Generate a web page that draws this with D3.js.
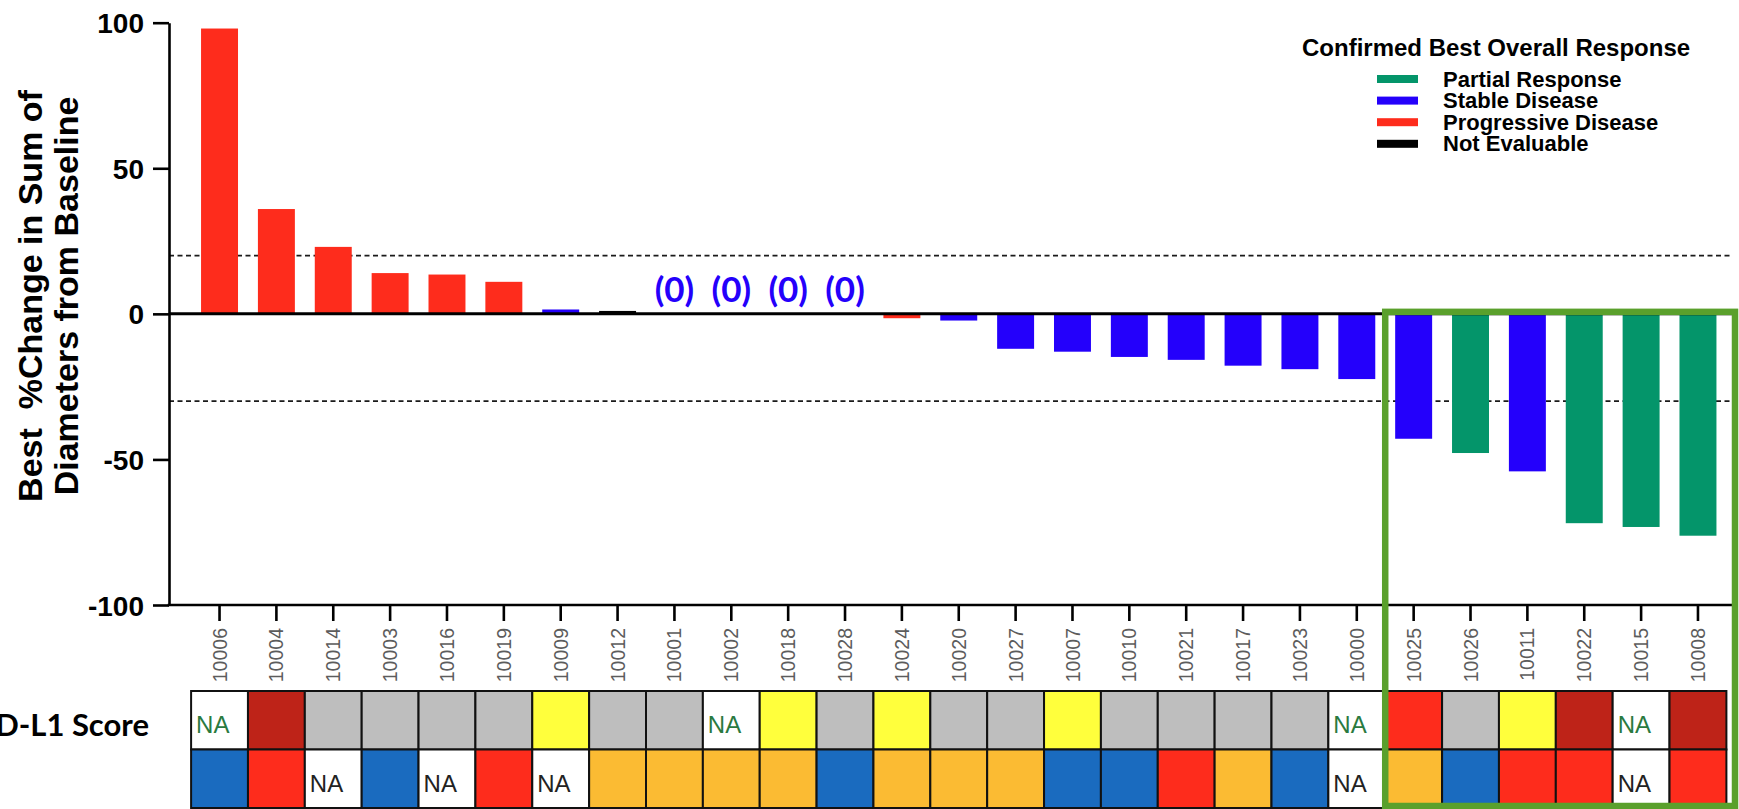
<!DOCTYPE html>
<html>
<head>
<meta charset="utf-8">
<script src="https://cdn.jsdelivr.net/npm/d3@7"></script>
<style>
  html, body { margin: 0; padding: 0; background: #fff; }
  svg { display: block; }
</style>
</head>
<body>
<svg id="chart" width="1739" height="809"></svg>
<script>
// ---------------- DATA ----------------
const patients = ["10006","10004","10014","10003","10016","10019","10009","10012","10001","10002",
  "10018","10028","10024","10020","10027","10007","10010","10021","10017","10023",
  "10000","10025","10026","10011","10022","10015","10008"];
const bestChange = [98, 36, 23, 14, 13.5, 11, 1.5, 1, 0, 0,
  0, 0, -1.5, -2.3, -12, -13, -14.8, -15.8, -17.8, -19,
  -22.4, -42.9, -47.8, -54.1, -71.9, -73.2, -76.2];
const response = ["PD","PD","PD","PD","PD","PD","SD","NE","SD","SD",
  "SD","SD","PD","SD","SD","SD","SD","SD","SD","SD",
  "SD","SD","PR","SD","PR","PR","PR"];
const pdl1Score = ["NA","high","neg","neg","neg","neg","low","neg","neg","NA",
  "low","neg","low","neg","neg","low","neg","neg","neg","neg",
  "NA","mid","neg","low","high","NA","high"];
const secondRow = ["B","R","NA","B","NA","R","NA","O","O","O",
  "O","B","O","O","O","B","B","R","O","B",
  "NA","O","B","R","R","NA","R"];
const yTicks = [-100, -50, 0, 50, 100];
const thresholds = [20, -30];
const highlightFrom = "10025";
const legendTitle = "Confirmed Best Overall Response";
const legendKeys = ["PR","SD","PD","NE"];
const legendLabels = ["Partial Response","Stable Disease","Progressive Disease","Not Evaluable"];
const yTitle = ["Best  %Change in Sum of", "Diameters from Baseline"];
const rowLabel = "PD-L1 Score";

// ---------------- STYLE ----------------
const respColor = { PR: "#04956a", SD: "#2400fb", PD: "#fe2c1c", NE: "#000000" };
const pdl1Color = { high: "#be2318", mid: "#fe2c1c", low: "#ffff3c", neg: "#bebebe", NA: "#ffffff" };
const row2Color = { B: "#1a6bbf", R: "#fe2c1c", O: "#fbbb33", NA: "#ffffff" };
const FONT = "'Liberation Sans', Arial, sans-serif";
const FONT2 = "Lato, 'Open Sans', sans-serif";

const svg = d3.select("#chart");
const plotLeft = 169, plotRight = 1735, plotTop = 22.7, plotBottom = 605;
const bandLeft = 191.1, bandRight = 1726.4;

const x = d3.scaleBand().domain(patients)
  .range([bandLeft, bandRight])
  .paddingInner(0.35).paddingOuter(0.175);
const y = d3.scaleLinear().domain([-100, 100]).range([plotBottom, plotTop]);
const halfGap = x.step() * x.paddingInner() / 2;

// threshold dashed lines
svg.selectAll("line.thr").data(thresholds).join("line")
  .attr("x1", plotLeft).attr("x2", plotRight - 4)
  .attr("y1", d => y(d)).attr("y2", d => y(d))
  .attr("stroke", "#1a1a1a").attr("stroke-width", 1.8)
  .attr("stroke-dasharray", "5,3.5");

// bars
const data = patients.map((p, i) => ({ p, v: bestChange[i], r: response[i] }));
svg.selectAll("rect.bar").data(data).join("rect")
  .attr("x", d => x(d.p)).attr("width", x.bandwidth())
  .attr("y", d => y(Math.max(0, d.v)))
  .attr("height", d => Math.abs(y(d.v) - y(0)))
  .attr("fill", d => respColor[d.r]);

// zero labels
svg.selectAll("text.zero").data(data.filter(d => d.v === 0)).join("text")
  .attr("x", d => x(d.p) + x.bandwidth() / 2).attr("y", y(0) - 12)
  .attr("text-anchor", "middle")
  .attr("font-family", FONT2).attr("font-weight", "bold").attr("font-size", 35)
  .attr("fill", respColor.SD).text("(0)");

// zero line
svg.append("line").attr("x1", plotLeft).attr("x2", plotRight)
  .attr("y1", y(0)).attr("y2", y(0)).attr("stroke", "#000").attr("stroke-width", 3);

// y axis
const yAxis = svg.append("g").attr("transform", `translate(${plotLeft},0)`)
  .call(d3.axisLeft(y).tickValues(yTicks).tickSize(16).tickSizeOuter(0).tickPadding(9)
    .tickFormat(d => String(d)));
yAxis.select(".domain").attr("stroke", "#000").attr("stroke-width", 2.6);
yAxis.selectAll(".tick line").attr("stroke", "#000").attr("stroke-width", 2.6);
yAxis.selectAll(".tick text").attr("font-family", FONT).attr("font-weight", "bold")
  .attr("font-size", 28).attr("fill", "#000").attr("dy", "0.36em");

// x axis
const xAxis = svg.append("g").attr("transform", `translate(0,${plotBottom})`)
  .call(d3.axisBottom(x).tickSize(16).tickSizeOuter(0));
xAxis.select(".domain").remove();
xAxis.selectAll(".tick line").attr("stroke", "#000").attr("stroke-width", 2.6);
xAxis.selectAll(".tick text")
  .attr("font-family", FONT).attr("font-size", 19.5).attr("fill", "#5c5c5c")
  .attr("text-anchor", "end")
  .attr("transform", "rotate(-90)")
  .attr("x", -23).attr("y", 0).attr("dy", "0.36em");
svg.append("line").attr("x1", plotLeft - 1.3).attr("x2", plotRight)
  .attr("y1", plotBottom).attr("y2", plotBottom).attr("stroke", "#000").attr("stroke-width", 2.6);

// y title
svg.selectAll("text.ytitle").data(yTitle).join("text")
  .attr("transform", (d, i) => `translate(${[42, 78][i]},296) rotate(-90)`)
  .attr("text-anchor", "middle").style("white-space", "pre")
  .attr("font-family", FONT).attr("font-weight", "bold").attr("font-size", 34)
  .attr("fill", "#000").text(d => d);

// heatmap
const hmTop = 691, hmRow = 58.5;
const rows = [
  { vals: pdl1Score, col: pdl1Color, na: "#2a7a40" },
  { vals: secondRow, col: row2Color, na: "#222" }
];
rows.forEach((row, ri) => {
  const g = svg.append("g");
  g.selectAll("rect").data(patients).join("rect")
    .attr("x", p => x(p) - halfGap).attr("width", x.step())
    .attr("y", hmTop + ri * hmRow).attr("height", hmRow)
    .attr("fill", (p, i) => row.col[row.vals[i]])
    .attr("stroke", "#111").attr("stroke-width", 2);
  g.selectAll("text").data(patients.filter((p, i) => row.vals[i] === "NA")).join("text")
    .attr("x", p => x(p) - halfGap + 5)
    .attr("y", hmTop + ri * hmRow + hmRow / 2 + 13)
    .attr("text-anchor", "start")
    .attr("font-family", FONT).attr("font-size", 24).attr("fill", row.na).text("NA");
});
svg.append("text").attr("x", 149).attr("y", hmTop + hmRow / 2 + 16)
  .attr("text-anchor", "end").attr("font-family", FONT2).attr("font-weight", "bold")
  .attr("font-size", 31).attr("fill", "#000").text(rowLabel);

// highlight box
const hx = x(highlightFrom) - halfGap;
svg.append("rect").attr("x", hx).attr("y", y(0) - 2)
  .attr("width", plotRight - hx).attr("height", 806 - (y(0) - 2))
  .attr("fill", "none").attr("stroke", "#5aa02c").attr("stroke-width", 6.5);

// legend
const lg = svg.append("g");
lg.append("text").attr("x", 1302).attr("y", 56)
  .attr("font-family", FONT).attr("font-weight", "bold").attr("font-size", 24)
  .attr("fill", "#000").text(legendTitle);
const li = lg.selectAll("g.item").data(legendKeys).join("g")
  .attr("transform", (d, i) => `translate(1377,${79 + i * 21.6})`);
li.append("rect").attr("x", 0).attr("y", -4).attr("width", 41).attr("height", 8)
  .attr("fill", d => respColor[d]);
li.append("text").attr("x", 66).attr("y", 7.5)
  .attr("font-family", FONT).attr("font-weight", "bold").attr("font-size", 22)
  .attr("fill", "#000").text((d, i) => legendLabels[i]);
</script>
</body>
</html>
